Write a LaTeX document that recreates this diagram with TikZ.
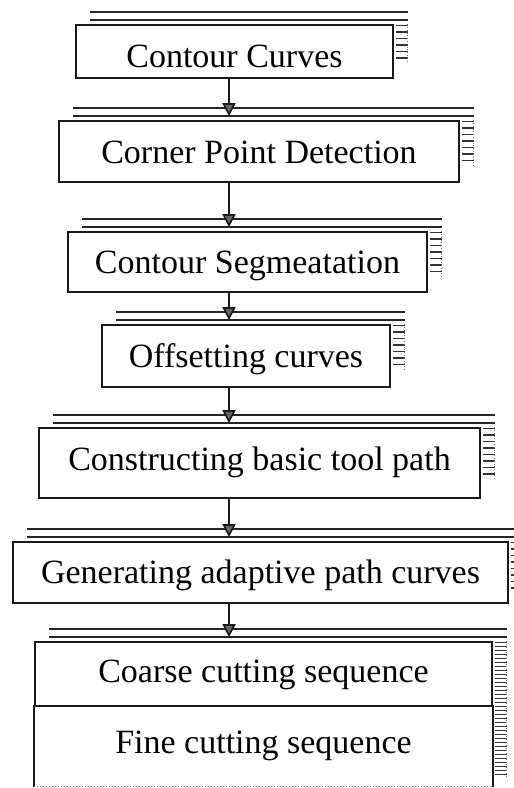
\documentclass[tikz,border=0pt]{standalone}
\usepackage{fontspec}
\setmainfont{Liberation Serif}
\usetikzlibrary{arrows.meta}

\tikzset{
  stage/.style={draw=black!90, line width=1.7pt, inner sep=0pt, text depth=0pt,
                font=\fontsize{34}{40}\selectfont},
  shadeline/.style={draw=black!85, line width=2.2pt},
  shadetick/.style={draw=black!80, line width=1.5pt},
  shadeedge/.style={draw=black!55, line width=0.8pt, dotted},
  flow/.style={draw=black!90, line width=1.6pt,
               -{Triangle[width=13pt,length=13pt,fill=black!60]}},
}

% hatched shadow of a box: two rules above it and a column of ticks on its right
% #1 = node name, #2 = number of ticks, #3 = tick spacing
\newcommand\boxshade[3]{%
  \draw[shadeline] ([xshift=15pt,yshift=12pt]#1.north west) -- ([xshift=14pt,yshift=12pt]#1.north east);
  \draw[shadeline] ([xshift=15pt,yshift=4pt]#1.north west) -- ([xshift=14pt,yshift=4pt]#1.north east);
  \foreach \k in {1,...,#2}
    \draw[shadetick] ([xshift=2pt,yshift={#3pt-1.5pt-\k*#3pt}]#1.north east) -- ++(12,0);
  \draw[shadeedge] ([xshift=14pt]#1.north east) -- ++(0,{#2*#3});
}

\begin{document}
\begin{tikzpicture}[x=1pt,y=-1pt]
  \useasboundingbox (0,0) rectangle (514,788);
  \clip (0,0) rectangle (514,788);

  \coordinate (spine) at (229,0);

  \node[stage, minimum width=317pt, minimum height=53pt, text height=31pt] (b1) at (234.5,51.5) {Contour Curves};
  \node[stage, minimum width=400pt, minimum height=61pt, text height=23pt] (b2) at (259,151.5) {Corner Point Detection};
  \node[stage, minimum width=359pt, minimum height=60pt, text height=22pt] (b3) at (247.5,262) {Contour Segmeatation};
  \node[stage, minimum width=288pt, minimum height=62pt, text height=22pt] (b4) at (246,356) {Offsetting curves};
  \node[stage, minimum width=441pt, minimum height=70pt, text height=14pt] (b5) at (259.5,463) {Constructing basic tool path};
  \node[stage, minimum width=495pt, minimum height=61pt, text height=21pt] (b6) at (260.5,572.5) {Generating adaptive path curves};
  \node[stage, minimum width=457pt, minimum height=64pt, text height=16pt] (coarse) at (263.5,674) {Coarse cutting sequence};
  \node[stage, draw=none, minimum width=457pt, minimum height=80pt, text height=14pt] (fine) at (263.5,746) {Fine cutting sequence};

  % sides of the lower compartment; its bottom edge is faint
  \draw[draw=black!90, line width=1.7pt] (fine.north west) -- (fine.south west);
  \draw[draw=black!90, line width=1.7pt] (fine.north east) -- (fine.south east);
  \draw[draw=black!50, line width=1pt, dotted] (fine.south west) -- (fine.south east);

  \boxshade{b1}{6}{6.5}
  \boxshade{b2}{7}{6.5}
  \boxshade{b3}{7}{6.5}
  \boxshade{b4}{7}{6.5}
  \boxshade{b5}{8}{6.5}
  \boxshade{b6}{8}{6.5}
  \boxshade{coarse}{34}{4}

  % flow arrows along a common vertical spine
  \draw[flow, shorten >=4pt] (b1.south -| spine) -- (b2.north -| spine);
  \draw[flow, shorten >=4pt] (b2.south -| spine) -- (b3.north -| spine);
  \draw[flow, shorten >=4pt] (b3.south -| spine) -- (b4.north -| spine);
  \draw[flow, shorten >=4pt] (b4.south -| spine) -- (b5.north -| spine);
  \draw[flow, shorten >=4pt] (b5.south -| spine) -- (b6.north -| spine);
  \draw[flow, shorten >=4pt] (b6.south -| spine) -- (coarse.north -| spine);
\end{tikzpicture}
\end{document}
